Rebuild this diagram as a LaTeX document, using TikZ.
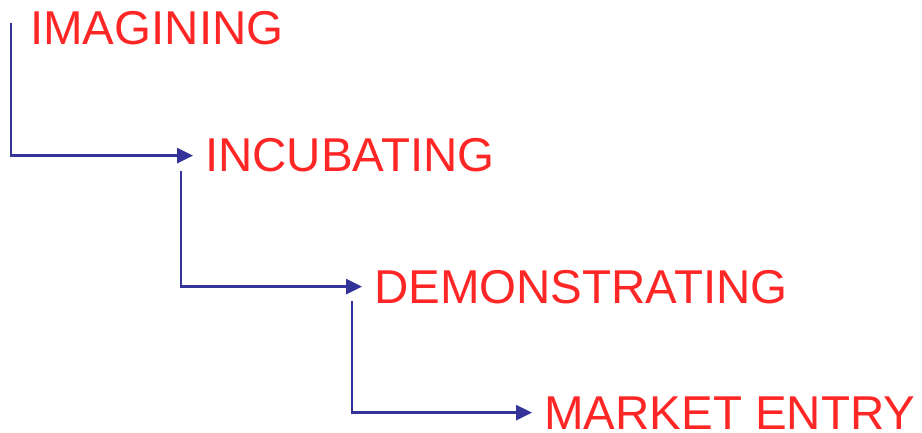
\documentclass[tikz,border=0pt]{standalone}
\usepackage{fontspec}
\setmainfont{Liberation Sans}
\usetikzlibrary{arrows.meta}

\definecolor{stagered}{RGB}{255,38,38}
\definecolor{flowblue}{RGB}{51,51,153}

\tikzset{
  stage/.style={anchor=base west,inner sep=0pt,text=stagered,font=\fontsize{47.5pt}{47.5pt}\selectfont},
  flow/.style={line width=2.8pt,color=flowblue,-{Triangle[length=16pt,width=15pt]},shorten >=12pt}
}

\begin{document}
\begin{tikzpicture}[x=1pt,y=-1pt]
  \useasboundingbox (0,0) rectangle (922,433);
  % stage labels
  \node [stage] (img) at (30,45) {IMAGINING};
  \node [stage] (inc) at (205,172) {INCUBATING};
  \node [stage] (dem) at (374,303) {DEMONSTRATING};
  \node [stage] (mkt) at (544,429) {MARKET ENTRY};
  % start points of the elbows
  \coordinate (s1) at (11,23);
  \coordinate (s2) at (181,171);
  \coordinate (s3) at (352,301);
  % elbow arrows
  \draw [flow] (s1) |- (inc.west);
  \draw [flow] (s2) |- (dem.west);
  \draw [flow] (s3) |- (mkt.west);
\end{tikzpicture}
\end{document}
